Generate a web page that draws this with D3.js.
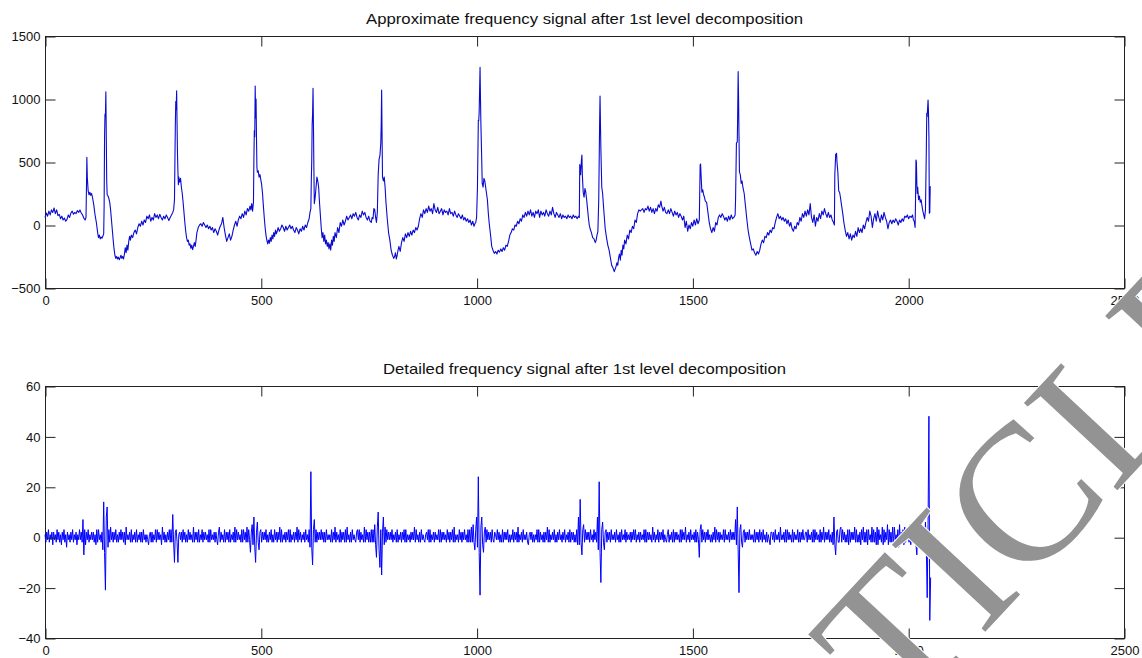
<!DOCTYPE html>
<html>
<head>
<meta charset="utf-8">
<script src="https://cdn.jsdelivr.net/npm/d3@7"></script>
<style>
  html, body { margin: 0; padding: 0; background: #ffffff; }
  svg { display: block; }
</style>
</head>
<body>
<svg id="chart" width="1142" height="658"></svg>
<script>
// ---------------- DATA ----------------
const xTicks = [0, 500, 1000, 1500, 2000, 2500];
const approxYTicks = [-500, 0, 500, 1000, 1500];
const detailYTicks = [-40, -20, 0, 20, 40, 60];
const approxTitle = "Approximate frequency signal after 1st level decomposition";
const detailTitle = "Detailed frequency signal after 1st level decomposition";
const watermarkText = "RETRACTED ARTICLE";

// Approximate (low-frequency) signal: [sample index, value]
const approxSignal = [
[0,60],[3,95],[6,70],[9,110],[12,80],[15,120],[18,100],[21,135],[24,90],[27,120],[30,75],[33,85],[36,50],[39,70],[42,40],[45,55],[48,30],[51,45],[54,80],[57,60],[60,95],[63,110],[66,85],[69,100],[72,90],[75,115],[78,100],[81,120],[84,95],[87,80],[90,55],[93,40],[95,60],
[96,280],[97,537],[98,380],[100,270],[102,240],[104,260],[106,235],[108,250],[110,220],[113,160],[116,80],[119,20],[122,-60],[124,-100],[126,-80],[128,-110],[130,-95],[132,-105],[134,-90],[136,-70],
[137,150],[138,700],[139,880],[140,860],[141,1058],[142,700],[143,350],[144,240],[146,230],[148,210],[150,180],[152,120],[154,40],[156,-40],[158,-120],[160,-190],[162,-240],[164,-265],[166,-250],[168,-270],[170,-255],[172,-275],[174,-260],[176,-240],[178,-265],[180,-250],[182,-270],[184,-230],[186,-180],[188,-220],[190,-160],[192,-200],[194,-130],[196,-90],[198,-120],[200,-80],[203,-100],[206,-60],[209,-40],[212,-70],[215,-20],[218,10],[221,-10],[224,30],[227,0],[230,40],[233,20],[236,70],[239,50],[242,80],[245,30],[248,60],[251,40],[254,90],[257,60],[260,80],[263,50],[266,85],[269,60],[272,40],[275,70],[278,50],[281,80],[284,60],[287,35],[290,60],[293,80],[296,100],[298,120],
[300,200],[301,500],[302,800],[303,980],[304,920],[305,1066],[306,800],[307,560],[308,420],[309,320],[310,380],[312,340],[314,370],[316,300],[318,250],[320,180],[322,100],[324,20],[326,-50],[328,-100],[330,-130],[332,-120],[334,-160],[336,-150],[338,-185],[340,-160],[342,-195],[344,-170],[346,-140],[348,-170],[350,-120],[352,-60],[355,-20],[358,0],[361,10],[364,-10],[367,20],[370,0],[373,-20],[376,0],[379,-30],[382,-10],[385,-40],[388,-20],[391,-60],[394,-30],[397,-50],[400,-80],[403,-40],[406,-10],[409,10],[412,60],[415,-20],[418,-80],[421,-130],[424,-100],[427,-70],[430,-120],[433,-90],[436,-40],[439,0],[442,30],[445,-10],[448,40],[451,70],[454,50],[457,90],[460,60],[463,110],[466,80],[469,130],[472,110],[475,150],[477,120],[479,170],[481,110],[483,180],
[484,520],[485,750],[486,700],[487,1103],[488,850],[489,1000],[490,700],[491,460],[492,420],[494,430],[496,380],[498,400],[500,360],[502,320],[504,250],[506,150],[508,60],[510,-20],[512,-80],[514,-120],[516,-150],[518,-120],[520,-145],[522,-100],[524,-130],[526,-80],[528,-110],[530,-60],[532,-90],[534,-40],[536,-70],[538,-50],[540,-20],[543,-50],[546,-30],[549,0],[552,-20],[555,-50],[558,-10],[561,-40],[564,-20],[567,0],[570,-30],[573,-10],[576,-40],[579,-60],[582,-20],[585,-40],[588,-70],[591,-30],[594,-50],[597,-10],[600,-40],[603,0],[606,-20],[609,20],[612,50],[614,100],[616,130],
[617,350],[618,500],[619,800],[620,880],[621,1085],[622,800],[623,450],[624,170],[626,220],[628,300],[630,380],[632,350],[634,300],[636,180],[638,80],[640,-20],[642,-100],[644,-60],[646,-130],[648,-80],[650,-150],[652,-120],[654,-170],[656,-140],[658,-190],[660,-150],[662,-200],[664,-120],[666,-160],[668,-90],[670,-130],[672,-60],[675,-100],[678,-20],[681,-60],[684,20],[687,-10],[690,40],[693,0],[696,30],[699,70],[702,40],[705,60],[708,80],[711,50],[714,90],[717,70],[720,100],[723,60],[726,40],[729,80],[732,60],[735,110],[738,80],[741,100],[744,60],[747,40],[750,70],[753,30],[756,20],[758,60],[760,50],[762,130],[764,120],[766,60],[768,20],[770,100],
[772,400],[774,520],[776,550],[778,650],[779,800],[780,1071],[781,700],[782,380],[784,350],[786,380],[788,300],[790,180],[793,50],[796,-60],[799,-120],[802,-200],[805,-240],[808,-265],[810,-250],[812,-220],[814,-270],[816,-240],[818,-200],[820,-170],[823,-210],[826,-140],[829,-100],[832,-130],[835,-70],[838,-100],[841,-60],[844,-90],[847,-50],[850,-80],[853,-40],[856,-60],[859,-20],[862,-40],[865,-10],[868,50],[871,90],[874,60],[877,120],[880,90],[883,130],[886,100],[889,150],[892,110],[895,130],[898,90],[901,170],[904,120],[907,100],[910,140],[913,90],[916,110],[919,130],[922,80],[925,120],[928,100],[931,110],[934,80],[937,130],[940,90],[943,100],[946,70],[949,110],[952,80],[955,60],[958,90],[961,70],[964,50],[967,80],[970,40],[973,60],[976,30],[979,50],[982,20],[985,40],[988,0],[991,30],[994,-10],[996,10],[998,20],
[1000,60],[1002,300],[1004,830],[1005,830],[1006,900],[1008,1252],[1009,1000],[1010,800],[1012,500],[1013,330],[1015,300],[1017,370],[1019,350],[1021,300],[1023,250],[1025,200],[1027,100],[1029,20],[1031,-40],[1033,-100],[1035,-170],[1038,-200],[1041,-225],[1044,-210],[1047,-230],[1050,-200],[1053,-215],[1056,-190],[1059,-210],[1062,-180],[1065,-200],[1068,-160],[1071,-170],[1074,-130],[1077,-80],[1080,-60],[1083,-30],[1086,-40],[1089,0],[1092,-10],[1095,30],[1098,10],[1101,50],[1104,30],[1107,80],[1110,60],[1113,100],[1116,70],[1119,110],[1122,80],[1125,120],[1128,70],[1131,100],[1134,60],[1137,110],[1140,90],[1143,120],[1146,60],[1149,110],[1152,80],[1155,100],[1158,70],[1161,120],[1164,90],[1167,70],[1170,110],[1173,80],[1176,140],[1179,90],[1182,60],[1185,100],[1188,80],[1191,60],[1194,90],[1197,50],[1200,80],[1203,60],[1206,70],[1209,50],[1212,80],[1215,60],[1218,70],[1221,50],[1224,80],[1227,60],[1230,70],[1233,50],[1236,70],[1238,60],
[1239,480],[1240,460],[1241,400],[1243,520],[1244,556],[1245,400],[1247,260],[1249,220],[1251,290],[1253,260],[1255,200],[1257,130],[1259,60],[1261,0],[1263,-30],[1266,-60],[1269,-100],[1272,-110],[1275,-140],[1277,-120],[1279,-80],[1281,-50],
[1283,200],[1284,500],[1285,800],[1286,1024],[1287,800],[1288,600],[1290,300],[1292,250],[1294,150],[1296,60],[1298,-30],[1301,-100],[1304,-160],[1307,-200],[1310,-260],[1313,-320],[1316,-340],[1319,-370],[1321,-350],[1323,-330],[1325,-300],[1327,-320],[1329,-260],[1331,-230],[1333,-280],[1335,-200],[1337,-240],[1339,-160],[1341,-190],[1343,-120],[1346,-150],[1349,-80],[1352,-110],[1355,-40],[1358,-60],[1361,-10],[1364,-30],[1367,40],[1370,20],[1373,90],[1376,120],[1379,110],[1382,120],[1385,130],[1388,100],[1391,130],[1394,120],[1397,150],[1400,110],[1403,140],[1406,100],[1409,130],[1412,90],[1415,130],[1418,110],[1421,160],[1424,140],[1427,190],[1429,150],[1432,110],[1435,140],[1438,100],[1441,90],[1444,120],[1447,90],[1450,130],[1453,100],[1456,70],[1459,110],[1462,80],[1465,100],[1468,60],[1471,90],[1474,70],[1477,40],[1480,70],[1483,-20],[1486,30],[1489,-50],[1492,0],[1495,-30],[1498,20],[1501,-10],[1504,40],[1507,0],[1510,50],[1513,10],[1516,40],
[1518,480],[1519,484],[1520,400],[1522,260],[1524,280],[1526,240],[1528,220],[1530,190],[1533,180],[1536,100],[1539,20],[1542,-30],[1545,-60],[1548,-20],[1551,-50],[1554,20],[1557,0],[1560,60],[1563,80],[1566,60],[1569,90],[1572,70],[1575,40],[1578,60],[1581,30],[1584,70],[1587,40],[1590,80],[1593,50],[1596,60],[1599,80],
[1600,200],[1602,650],[1604,660],[1605,900],[1606,1217],[1607,1000],[1608,700],[1609,420],[1611,400],[1613,330],[1615,350],[1617,300],[1620,250],[1623,150],[1626,50],[1629,-40],[1632,-100],[1635,-150],[1638,-200],[1641,-190],[1644,-220],[1647,-240],[1650,-210],[1653,-230],[1656,-200],[1659,-150],[1662,-120],[1665,-140],[1668,-90],[1671,-100],[1674,-60],[1677,-80],[1680,-40],[1683,-60],[1686,-20],[1689,-30],[1692,20],[1695,60],[1698,90],[1701,50],[1704,70],[1707,40],[1710,60],[1713,30],[1716,50],[1719,10],[1722,40],[1725,-10],[1728,20],[1731,-30],[1734,-50],[1737,-10],[1740,-30],[1743,20],[1746,0],[1749,60],[1752,30],[1755,90],[1758,60],[1761,110],[1764,70],[1767,120],[1770,80],[1773,170],[1776,60],[1779,20],[1782,80],[1785,-10],[1788,60],[1791,30],[1794,90],[1797,50],[1800,110],[1803,80],[1806,130],[1809,90],[1812,60],[1815,100],[1818,60],[1821,80],[1824,40],[1827,20],[1829,0],
[1830,400],[1832,560],[1834,569],[1835,500],[1837,420],[1839,270],[1841,260],[1843,220],[1845,170],[1848,100],[1851,20],[1854,-40],[1857,-90],[1860,-60],[1863,-110],[1866,-70],[1869,-120],[1872,-80],[1875,-100],[1878,-50],[1881,-90],[1884,-20],[1887,-60],[1890,-30],[1893,-60],[1896,0],[1899,-30],[1902,20],[1905,60],[1908,30],[1911,110],[1914,70],[1917,-20],[1920,50],[1923,90],[1926,30],[1929,110],[1932,60],[1935,20],[1938,80],[1941,40],[1944,100],[1947,60],[1950,30],[1953,-30],[1956,20],[1959,40],[1962,10],[1965,40],[1968,20],[1971,50],[1974,30],[1977,0],[1980,40],[1983,20],[1986,50],[1989,30],[1992,70],[1995,60],[1998,80],[2001,50],[2004,70],[2007,60],[2010,80],[2012,40],[2014,30],[2016,-20],
[2017,200],[2018,516],[2019,500],[2020,330],[2021,250],[2022,300],[2024,200],[2026,230],[2028,180],[2030,200],[2032,150],[2034,110],[2036,80],[2038,50],[2040,120],[2042,600],[2043,886],[2044,860],[2046,992],[2047,900],[2048,700],[2049,93],[2050,100],[2051,304],[2052,300]
];

// Detail (high-frequency) signal, one value every `detailStep` samples starting at 0
const detailStep = 2;
const detailValues = [
1,-2,2,-1,3,-2,1,-1,2,-3,2,-1,1,-2,3,-1,2,-2,1,-3,2,-1,3,-2,1,-4,2,-1,1,-2,2,-1,3,-2,1,-1,2,-3,1,-1,
3,-1,2,-2,7,-7,3,-3,2,-1,3,-2,1,-1,2,-1,2,-2,1,-3,3,-2,3,-1,1,-2,2,-5,14,-6,-21,8,12,-4,3,-2,4,-1,2,-2,
2,-1,3,-2,1,-2,2,-1,3,-1,2,-2,2,-3,4,-1,1,-1,2,-2,3,-2,1,-1,2,-2,3,-2,1,-1,2,-2,2,-2,3,-1,1,-2,1,-1,
-3,1,2,-2,2,-2,1,-1,3,-2,3,-1,2,-1,1,-3,4,-1,2,-2,1,-2,2,-1,3,-2,3,-2,9,-2,-10,2,3,-2,-10,1,2,-1,2,-2,
3,-1,2,-2,1,-2,3,-1,2,-1,1,-2,4,-2,2,-1,2,-2,3,-2,1,-1,3,-2,2,-1,2,-1,1,-2,3,-2,3,-1,1,-1,2,-2,2,-1,
-3,2,4,-2,2,-1,1,-2,3,-2,2,-1,2,-2,3,-2,1,-1,2,-2,4,-2,3,-1,2,-1,1,-2,3,-2,3,-1,2,-2,4,-2,3,-1,-6,2,
5,-3,8,-4,-10,2,6,-2,-5,2,3,-2,2,-1,2,-1,3,-2,1,-2,2,-1,3,-2,1,-2,3,-1,2,-2,2,-1,4,-2,3,-2,1,-1,2,-2,
2,-1,3,-2,3,-2,1,-1,2,-2,2,-1,4,-2,3,-1,2,-2,1,-1,2,-2,3,-1,1,-2,3,-4,26,-4,-11,3,7,-2,3,-2,2,-1,2,-1,
3,-1,2,-2,2,-2,3,-1,1,-1,1,-2,3,-2,2,-1,4,-2,2,-1,1,-2,3,-2,2,-1,2,-2,3,-2,4,-1,1,-2,2,-2,3,-1,1,-1,
-2,2,3,-1,3,-2,2,-1,1,-2,4,-2,3,-1,2,-2,2,-2,3,-2,3,-2,5,-3,-8,4,10,-5,-12,3,-15,2,8,-3,4,-2,3,-1,2,-1,
2,-1,3,-2,1,-1,2,-2,3,-2,1,-1,2,-2,2,-1,3,-2,3,-2,1,-1,1,-2,2,-1,2,-1,4,-2,3,-1,1,-2,2,-2,3,-1,1,-1,
-2,1,2,-1,3,-2,3,-2,1,-1,2,-2,2,-1,1,-1,3,-2,3,-2,2,-1,2,-1,1,-2,3,-1,2,-2,2,-1,3,-2,4,-2,1,-1,1,-2,
3,-1,2,-2,2,-1,3,-1,1,-2,3,-2,3,-2,4,-2,5,-2,-5,3,8,-4,24,-6,-23,4,8,-3,-6,2,4,-2,3,-1,2,-1,2,-2,3,-1,
-2,2,1,-1,3,-1,2,-2,1,-2,3,-2,2,-1,2,-1,3,-2,1,-2,1,-1,3,-2,2,-1,2,-2,4,-2,1,-1,2,-2,3,-1,1,-1,2,-2,
-3,1,2,-1,2,-2,1,-2,1,-1,3,-2,3,-2,2,-1,1,-2,2,-2,2,-1,4,-2,3,-2,1,-1,2,-1,3,-2,1,-2,2,-1,3,-1,1,-2,
2,-1,3,-2,1,-1,2,-2,3,-2,2,-1,2,-2,1,-2,3,-3,8,-3,15,-2,-7,3,5,-2,3,-1,2,-1,2,-2,3,-1,1,-2,3,-1,2,-2,
8,-5,22,-6,-18,3,6,-2,-5,2,3,-2,2,-1,2,-2,3,-1,1,-1,2,-2,3,-1,1,-2,2,-2,3,-1,1,-1,3,-2,2,-1,1,-1,2,-2,
2,-1,3,-1,3,-2,1,-1,2,-2,2,-1,1,-1,3,-2,3,-2,2,-1,2,-1,1,-2,4,-1,2,-2,1,-1,3,-2,2,-1,2,-1,3,-2,1,-1,
-2,1,3,-2,1,-1,2,-2,3,-2,2,-1,2,-1,1,-2,3,-2,3,-1,2,-1,4,-2,1,-1,2,-2,3,-1,1,-1,2,-2,3,-2,2,-1,-8,3,
5,-2,3,-1,2,-2,2,-1,3,-1,1,-2,1,-2,2,-1,4,-2,3,-1,2,-2,2,-1,1,-1,3,-2,3,-1,1,-1,2,-2,3,-1,2,-1,2,-1,
7,-3,12,-5,-22,3,5,-2,-4,2,3,-2,2,-1,2,-1,3,-1,1,-1,1,-2,3,-2,2,-1,2,-2,3,-1,2,-2,3,-1,1,-2,2,-2,1,-1,
-3,2,2,-1,2,-2,3,-1,1,-1,2,-2,4,-1,1,-1,2,-2,3,-2,3,-1,2,-1,1,-2,3,-2,2,-1,1,-1,3,-2,2,-2,2,-1,3,-1,
-1,2,2,-2,3,-1,1,-1,2,-2,3,-2,3,-1,2,-1,1,-2,3,-2,2,-1,4,-2,2,-1,2,-1,3,-2,1,-2,2,-3,8,-3,-7,2,3,-2,
-2,3,4,-2,3,-1,2,-2,1,-2,3,-3,3,-2,2,-1,2,-1,4,-2,3,-2,1,-2,2,-3,3,-1,4,-2,2,-2,3,-3,3,-1,1,-2,4,-2,
3,-2,2,-3,4,-3,3,-1,1,-2,4,-3,3,-2,2,-1,5,-3,3,-2,2,-2,4,-3,4,-1,1,-2,3,-4,5,-2,2,-2,3,-3,4,-2,2,-1,
3,-2,5,-3,4,-2,3,-2,5,-3,-7,3,5,-2,4,-2,3,-2,3,-2,6,-4,-24,5,48,-33,-16
];

// ---------------- DRAWING ----------------
const svg = d3.select("#chart");
const fontFamily = '"Liberation Sans", Arial, Helvetica, sans-serif';
const axisColor = "#222222";

const panels = [
  { top: 36, bottom: 288, domain: [-500, 1500], yTicks: approxYTicks, title: approxTitle, titleWidth: 437,
    data: approxSignal, color: "#0a0ad0", width: 1.1 },
  { top: 386, bottom: 638, domain: [-40, 60], yTicks: detailYTicks, title: detailTitle, titleWidth: 403,
    data: detailValues.map((v, i) => [i * detailStep, v]), color: "#0000ff", width: 1 }
];
const left = 45, right = 1124;
const x = d3.scaleLinear().domain([0, 2500]).range([left, right]);

panels.forEach(p => {
  const y = d3.scaleLinear().domain(p.domain).range([p.bottom, p.top]);
  const g = svg.append("g");

  g.append("rect").attr("x", left + 0.5).attr("y", p.top + 0.5)
    .attr("width", right - left).attr("height", p.bottom - p.top)
    .attr("fill", "none").attr("stroke", axisColor).attr("stroke-width", 1);

  const line = d3.line().x(d => x(d[0])).y(d => y(d[1]));
  g.append("path").datum(p.data).attr("d", line)
    .attr("fill", "none").attr("stroke", p.color).attr("stroke-width", p.width)
    .attr("stroke-linejoin", "round");

  const tl = 10;
  const xb = d3.axisBottom(x).tickValues(xTicks).tickSize(-tl).tickPadding(tl + 4).tickFormat(d3.format("d"));
  const gxb = g.append("g").attr("transform", `translate(0.5,${p.bottom + 0.5})`).call(xb);
  const xt = d3.axisTop(x).tickValues(xTicks).tickSize(-tl).tickFormat("");
  const gxt = g.append("g").attr("transform", `translate(0.5,${p.top + 0.5})`).call(xt);
  const yl = d3.axisLeft(y).tickValues(p.yTicks).tickSize(-tl).tickPadding(5).tickFormat(d3.format("d"));
  const gyl = g.append("g").attr("transform", `translate(${left + 0.5},0.5)`).call(yl);
  const yr = d3.axisRight(y).tickValues(p.yTicks).tickSize(-tl).tickFormat("");
  const gyr = g.append("g").attr("transform", `translate(${right + 0.5},0.5)`).call(yr);

  [gxb, gxt, gyl, gyr].forEach(a => {
    a.select(".domain").remove();
    a.selectAll("line").attr("stroke", axisColor);
    a.selectAll("text").attr("fill", "#111").style("font-family", fontFamily).style("font-size", "13px");
  });
  gxb.selectAll("text").attr("dy", "0.2em");

  g.append("text").attr("x", (left + right) / 2).attr("y", p.top - 12)
    .attr("text-anchor", "middle").attr("fill", "#111")
    .attr("textLength", p.titleWidth).attr("lengthAdjust", "spacingAndGlyphs")
    .style("font-family", fontFamily).style("font-size", "15px")
    .text(p.title);
});

// watermark: place the "C" of ARTICLE at a target point, rotated
const wmSize = 195, wmAngle = -47, wmTarget = [1022, 498];
const wm = svg.append("text")
  .attr("fill", "#939393")
  .attr("stroke", "#ffffff").attr("stroke-width", 2)
  .attr("paint-order", "stroke")
  .style("font-family", '"Liberation Serif", "Times New Roman", serif')
  .style("font-size", wmSize + "px")
  .text(watermarkText);
const ci = watermarkText.lastIndexOf("C");
const ext = wm.node().getExtentOfChar(ci);
const cx = ext.x + ext.width / 2;
wm.attr("transform", `translate(${wmTarget[0]},${wmTarget[1]}) rotate(${wmAngle}) translate(${-cx},${0.33 * wmSize})`);
</script>
</body>
</html>
